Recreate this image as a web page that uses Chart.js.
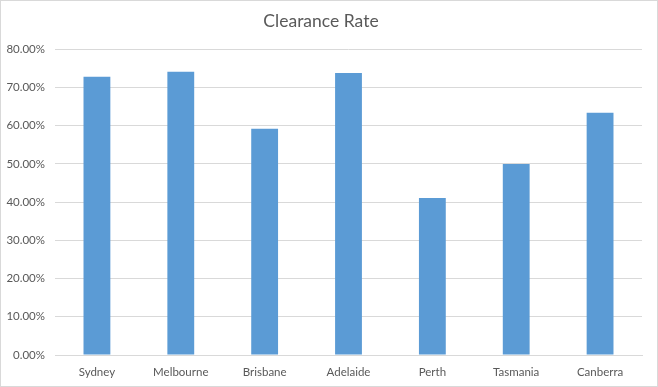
<!DOCTYPE html>
<html>
<head>
<meta charset="utf-8">
<script src="https://cdn.jsdelivr.net/npm/chart.js@4"></script>
<style>
  body { margin: 0; background: #fff; }
  #wrap { width: 658px; height: 387px; }
</style>
</head>
<body>
<div id="wrap"><canvas id="rateChart" width="658" height="387"></canvas></div>
<script>
// Data
const cities = ['Sydney', 'Melbourne', 'Brisbane', 'Adelaide', 'Perth', 'Tasmania', 'Canberra'];
const clearanceRate = [72.8, 74.1, 59.2, 73.8, 41.1, 50.0, 63.4];
const yTicks = [0, 10, 20, 30, 40, 50, 60, 70, 80];

const textColor = '#595959';
const gridColor = '#d9d9d9';
const fontName = 'Lato, "Open Sans", sans-serif';

// border round the whole chart, like the Excel chart frame
const frame = {
    id: 'frame',
    afterDraw(chart) {
        const c = chart.ctx;
        c.save();
        c.strokeStyle = gridColor;
        c.lineWidth = 1;
        c.strokeRect(0.5, 0.5, chart.width - 1, chart.height - 1);
        c.restore();
    }
};

const ctx = document.getElementById('rateChart').getContext('2d');
let chart = new Chart(ctx, {
    type: 'bar',
    data: {
        labels: cities,
        datasets: [{
            label: 'Clearance Rate',
            data: clearanceRate,
            backgroundColor: '#5b9bd5',
            borderWidth: 0,
            categoryPercentage: 1,
            barPercentage: 0.32
        }]
    },
    options: {
        responsive: false,
        animation: false,
        layout: { padding: { left: 0, right: 16, top: 0, bottom: 0 } },
        plugins: {
            legend: { display: false },
            tooltip: { enabled: false },
            title: {
                display: true,
                text: 'Clearance Rate',
                color: textColor,
                font: { family: fontName, size: 17.5, weight: 'normal', lineHeight: 1.2 },
                padding: { top: 11, bottom: 17.3 }
            }
        },
        scales: {
            x: {
                grid: { display: false, drawTicks: false },
                border: { display: true, color: gridColor },
                ticks: {
                    color: textColor,
                    font: { family: fontName, size: 11.5 },
                    padding: 10,
                    maxRotation: 0
                },
                afterFit(scale) { scale.height = 32; }
            },
            y: {
                min: 0,
                max: 80,
                afterBuildTicks(scale) {
                    scale.ticks = yTicks.map(v => ({ value: v }));
                },
                grid: { color: gridColor, drawTicks: false },
                border: { display: false },
                ticks: {
                    color: textColor,
                    font: { family: fontName, size: 11.5 },
                    padding: 10,
                    callback: v => v.toFixed(2) + '%'
                },
                afterFit(scale) { scale.width = 55; }
            }
        }
    },
    plugins: [frame]
});
</script>
</body>
</html>
